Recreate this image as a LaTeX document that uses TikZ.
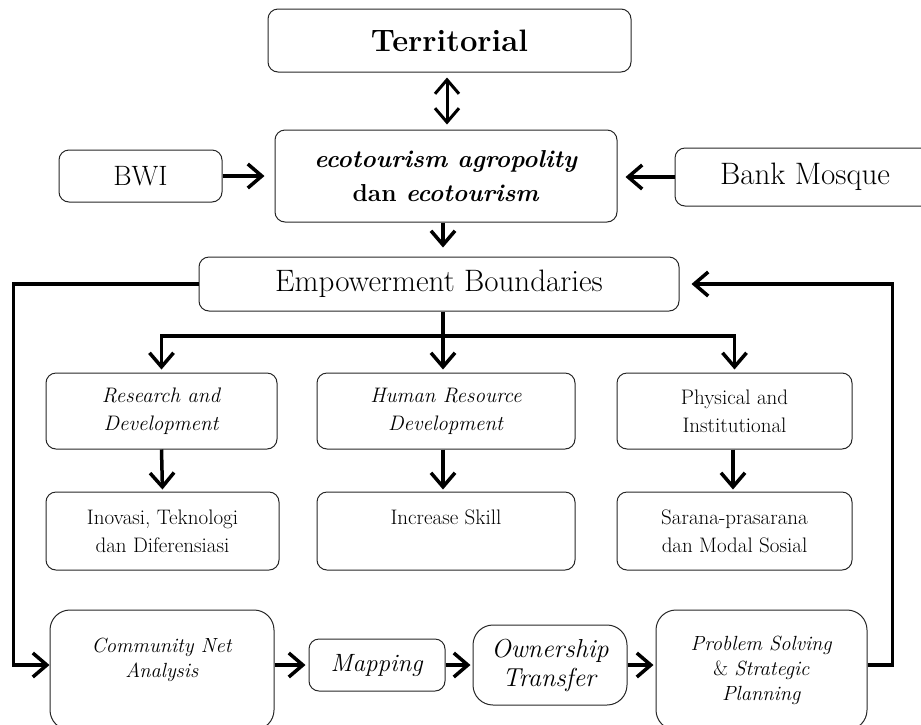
\documentclass[tikz,border=0pt]{standalone}
\usetikzlibrary{arrows.meta}
\usetikzlibrary{calc}
\tikzset{>={Straight Barb[length=14pt,width=24pt]}}
\tikzset{blok/.style={draw=black!85, line width=1pt, rounded corners=10pt, align=center, inner sep=2pt}}
\tikzset{bigblok/.style={blok, rounded corners=20pt}}
\tikzset{flow/.style={->, line width=3.5pt}}
\tikzset{rowtext/.style={font=\fontsize{21}{28}\selectfont}}
\tikzset{lowtext/.style={font=\fontsize{20.5}{25}\selectfont}}

\begin{document}
\begin{tikzpicture}[x=1pt, y=-1pt]
\useasboundingbox (0,0) rectangle (921,724);
\clip (0,0) rectangle (921,724);

% top part
\node[blok, minimum width=363pt, minimum height=63pt, font=\fontsize{31}{34}\selectfont\bfseries] (terr) at (449.5,40.5) {Territorial};
\node[blok, minimum width=342pt, minimum height=92pt, font=\fontsize{24.5}{34}\selectfont\bfseries] (eco) at (446,176) {\textit{ecotourism agropolity}\\dan \textit{ecotourism}};
\node[blok, minimum width=163pt, minimum height=52pt, font=\fontsize{28}{30}\selectfont] (bwi) at (140.5,176) {BWI};
\node[blok, minimum width=260pt, minimum height=58pt, font=\fontsize{31}{34}\selectfont] (bank) at (805,177) {Bank Mosque};
\node[blok, minimum width=480pt, minimum height=54pt, font=\fontsize{31}{34}\selectfont] (emp) at (439,284) {Empowerment Boundaries};

\draw[<->, line width=3pt, shorten <=5pt, shorten >=5pt] (terr.south -| 447,0) -- (eco.north -| 447,0);
\draw[flow, shorten >=10pt] (bwi.east) -- (eco.west |- bwi.east);
\draw[flow, shorten >=8pt] (bank.west) -- (eco.east |- bank.west);
\draw[flow, shorten >=9pt] (eco.south -| 443,0) -- (emp.north -| 443,0);

% middle rows
\node[blok, rowtext, minimum width=231pt, minimum height=76pt] (rd) at (161.5,411) {\textit{Research and}\\\textit{Development}};
\node[blok, rowtext, minimum width=258pt, minimum height=76pt] (hrd) at (446,411) {\textit{Human Resource}\\\textit{Development}};
\node[blok, rowtext, minimum width=235pt, minimum height=76pt] (phy) at (734.5,411) {Physical and\\Institutional};

\node[blok, rowtext, minimum width=233pt, minimum height=78pt] (ino) at (162.5,531) {Inovasi, Teknologi\\dan Diferensiasi};
\node[blok, rowtext, minimum width=258pt, minimum height=78pt] (skill) at (446,531) {Increase Skill\\~};
\node[blok, rowtext, minimum width=235pt, minimum height=78pt] (sar) at (734.5,531) {Sarana-prasarana\\dan Modal Sosial};

\coordinate (bus) at (443,336);
\draw[line width=3.5pt] (emp.south -| bus) -- (bus);
\draw[flow, shorten >=3pt] (bus) -| (rd.north);
\draw[flow, shorten >=3pt] (bus) -| (phy.north);
\draw[flow, shorten >=3pt] (bus) -- (bus |- hrd.north);

\draw[flow, shorten >=2pt] (rd.south) -- (ino.north);
\draw[flow, shorten >=2pt] (hrd.south -| bus) -- (skill.north -| bus);
\draw[flow, shorten >=2pt] (phy.south -| 733,0) -- (sar.north -| 733,0);

% bottom row
\node[bigblok, lowtext, minimum width=224pt, minimum height=120pt] (cna) at (162,670) {\textit{Community Net}\\\textit{Analysis}\\~};
\node[blok, minimum width=136pt, minimum height=52pt, font=\fontsize{25}{28}\selectfont] (map) at (377,665) {\textit{Mapping}};
\node[bigblok, minimum width=154pt, minimum height=80pt, font=\fontsize{26}{29}\selectfont] (own) at (550,665) {\textit{Ownership}\\\textit{Transfer}};
\node[bigblok, lowtext, minimum width=211pt, minimum height=120pt] (psp) at (761.5,670) {\textit{Problem Solving}\\\textup{\&} \textit{Strategic}\\\textit{Planning}};

\draw[flow, shorten >=3pt] (cna.east |- map.west) -- (map.west);
\draw[flow, shorten >=2pt] (map.east) -- (own.west |- map.east);
\draw[flow, shorten >=2pt] (own.east) -- (psp.west |- own.east);

% feedback loops
\draw[flow] (emp.west) -- ++(-185,0) |- (cna.west |- map.west);
\draw[flow, shorten >=12pt] (psp.east |- own.east) -- ++(25,0) |- (emp.east);
\end{tikzpicture}
\end{document}
